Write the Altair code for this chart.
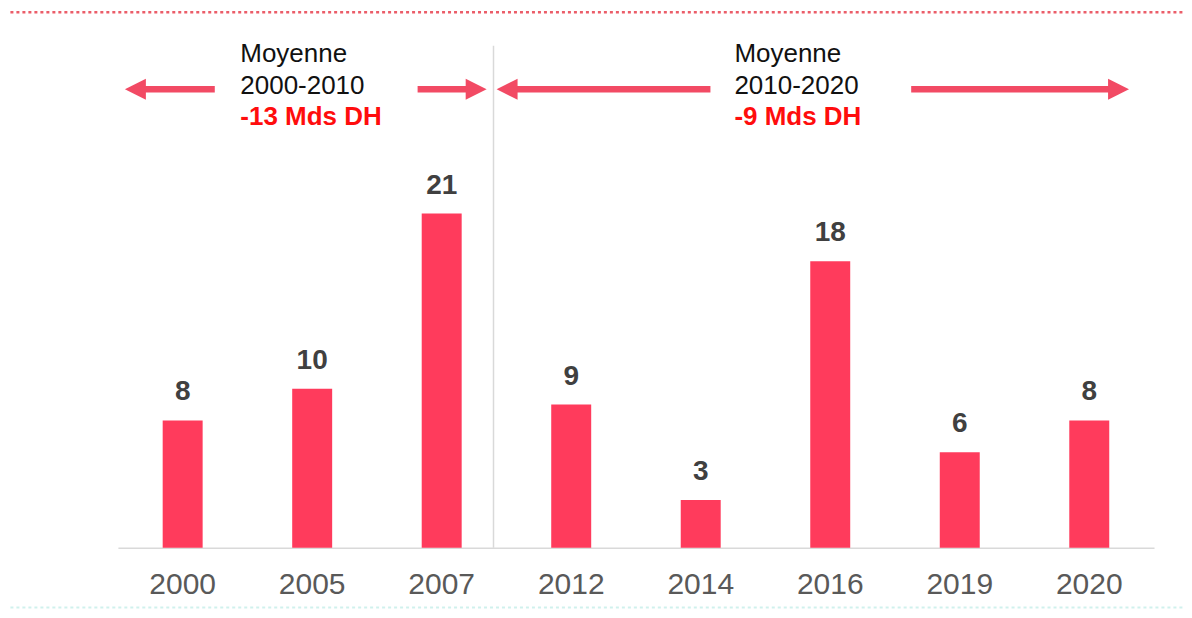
import altair as alt
import pandas as pd

# ---- data ----
years = ["2000", "2005", "2007", "2012", "2014", "2016", "2019", "2020"]
values = [8, 10, 21, 9, 3, 18, 6, 8]

# annotation layout in band units (0..8 across the plot) and value units
block_x = [0.945, 4.76]
block_line1 = ["Moyenne", "Moyenne"]
block_line2 = ["2000-2010", "2010-2020"]
block_line3 = ["-13 Mds DH", "-9 Mds DH"]
text_y = [30.51, 28.50, 26.55]

arrow_tail = [0.748, 2.314, 4.575, 6.125]
arrow_tip = [0.054, 2.847, 2.924, 7.807]
arrow_dir = ["left", "right", "left", "right"]
arrow_y = 28.81

separator_x = 2.90
separator_top = 31.55
top_line_y = 33.65
bottom_line_y = -3.75
edge_left, edge_right = -0.83, 8.27

BAR = "#ff3b5c"
ARROW = "#f24a64"
FONT = "Liberation Sans"
UNIT_PX = 1037 / 8

bars_df = pd.DataFrame({"year": years, "value": values})

blocks = []
for i in range(2):
    blocks.append({"u": block_x[i], "y": text_y[0], "t": block_line1[i], "k": "black"})
    blocks.append({"u": block_x[i], "y": text_y[1], "t": block_line2[i], "k": "black"})
    blocks.append({"u": block_x[i], "y": text_y[2], "t": block_line3[i], "k": "red"})
text_df = pd.DataFrame(blocks)

head_len = 20 / UNIT_PX
arrows_df = pd.DataFrame({"tail": arrow_tail, "tip": arrow_tip, "dir": arrow_dir})
arrows_df["y"] = arrow_y
arrows_df["base"] = [t + head_len * 0.6 if d == "left" else t - head_len * 0.6
                     for t, d in zip(arrows_df["tip"], arrows_df["dir"])]

y_scale = alt.Scale(domain=[0, 33.9], nice=False, zero=True)
u_scale = alt.Scale(domain=[0, 8], nice=False, zero=False)

x_band = alt.X("year:N", sort=years, title=None,
               scale=alt.Scale(paddingInner=0, paddingOuter=0),
               axis=alt.Axis(labelAngle=0, ticks=False, labelFont=FONT, labelFontSize=30,
                             labelColor="#595959", labelPadding=22, domainColor="#d9d9d9",
                             domainWidth=1.5, grid=False))

bars = alt.Chart(bars_df).mark_bar(size=40, color=BAR).encode(
    x=x_band,
    y=alt.Y("value:Q", scale=y_scale, axis=None),
)
bar_labels = alt.Chart(bars_df).mark_text(
    font=FONT, fontSize=28, fontWeight="bold", color="#404040", dy=-20, baseline="alphabetic"
).encode(x=x_band, y=alt.Y("value:Q", scale=y_scale, axis=None), text="value:Q")

bar_layer = alt.layer(bars, bar_labels)

uq = lambda f: alt.X(f, type="quantitative", scale=u_scale, axis=None, title=None)
yq = lambda f: alt.Y(f, type="quantitative", scale=y_scale, axis=None, title=None)

frame_df = pd.DataFrame({
    "x1": [separator_x, edge_left, edge_left],
    "x2": [separator_x, edge_right, edge_right],
    "y1": [0, top_line_y, bottom_line_y],
    "y2": [separator_top, top_line_y, bottom_line_y],
    "kind": ["sep", "top", "bottom"],
})
sep = alt.Chart(frame_df[frame_df.kind == "sep"]).mark_rule(
    color="#d9d9d9", strokeWidth=1.5, clip=False
).encode(x=uq("x1"), y=yq("y1"), y2="y2")
top_line = alt.Chart(frame_df[frame_df.kind == "top"]).mark_rule(
    color="#e8414f", strokeWidth=2.5, strokeDash=[3, 3], opacity=0.85, clip=False
).encode(x=uq("x1"), x2="x2", y=yq("y1"))
bottom_line = alt.Chart(frame_df[frame_df.kind == "bottom"]).mark_rule(
    color="#c4eee9", strokeWidth=2, strokeDash=[3, 3], opacity=0.8, clip=False
).encode(x=uq("x1"), x2="x2", y=yq("y1"))

shafts = alt.Chart(arrows_df).mark_rule(color=ARROW, strokeWidth=6.5, clip=False).encode(
    x=uq("tail"), x2="base", y=yq("y")
)
heads_left = alt.Chart(arrows_df[arrows_df.dir == "left"]).mark_point(
    shape="M-1,0L1,-1L1,1Z", size=440, filled=True, color=ARROW, opacity=1, xOffset=10.5, clip=False
).encode(x=uq("tip"), y=yq("y"))
heads_right = alt.Chart(arrows_df[arrows_df.dir == "right"]).mark_point(
    shape="M1,0L-1,-1L-1,1Z", size=440, filled=True, color=ARROW, opacity=1, xOffset=-10.5, clip=False
).encode(x=uq("tip"), y=yq("y"))

black_text = alt.Chart(text_df[text_df.k == "black"]).mark_text(
    font=FONT, fontSize=26, color="#111111", align="left", baseline="alphabetic", clip=False
).encode(x=uq("u"), y=yq("y"), text="t:N")
red_text = alt.Chart(text_df[text_df.k == "red"]).mark_text(
    font=FONT, fontSize=26, fontWeight="bold", color="#ff0d0d", align="left",
    baseline="alphabetic", clip=False
).encode(x=uq("u"), y=yq("y"), text="t:N")

annotations = alt.layer(
    sep, top_line, bottom_line, shafts, heads_left, heads_right, black_text, red_text
)

chart = alt.layer(bar_layer, annotations).resolve_scale(x="independent").properties(
    width=1037, height=540,
    background="white",
    autosize=alt.AutoSizeParams(type="none"),
    padding={"left": 110, "top": 0, "right": 30, "bottom": 70},
).configure_view(strokeWidth=0, stroke="transparent")

chart.save("out.html", embed_options={"renderer": "svg", "actions": False})
